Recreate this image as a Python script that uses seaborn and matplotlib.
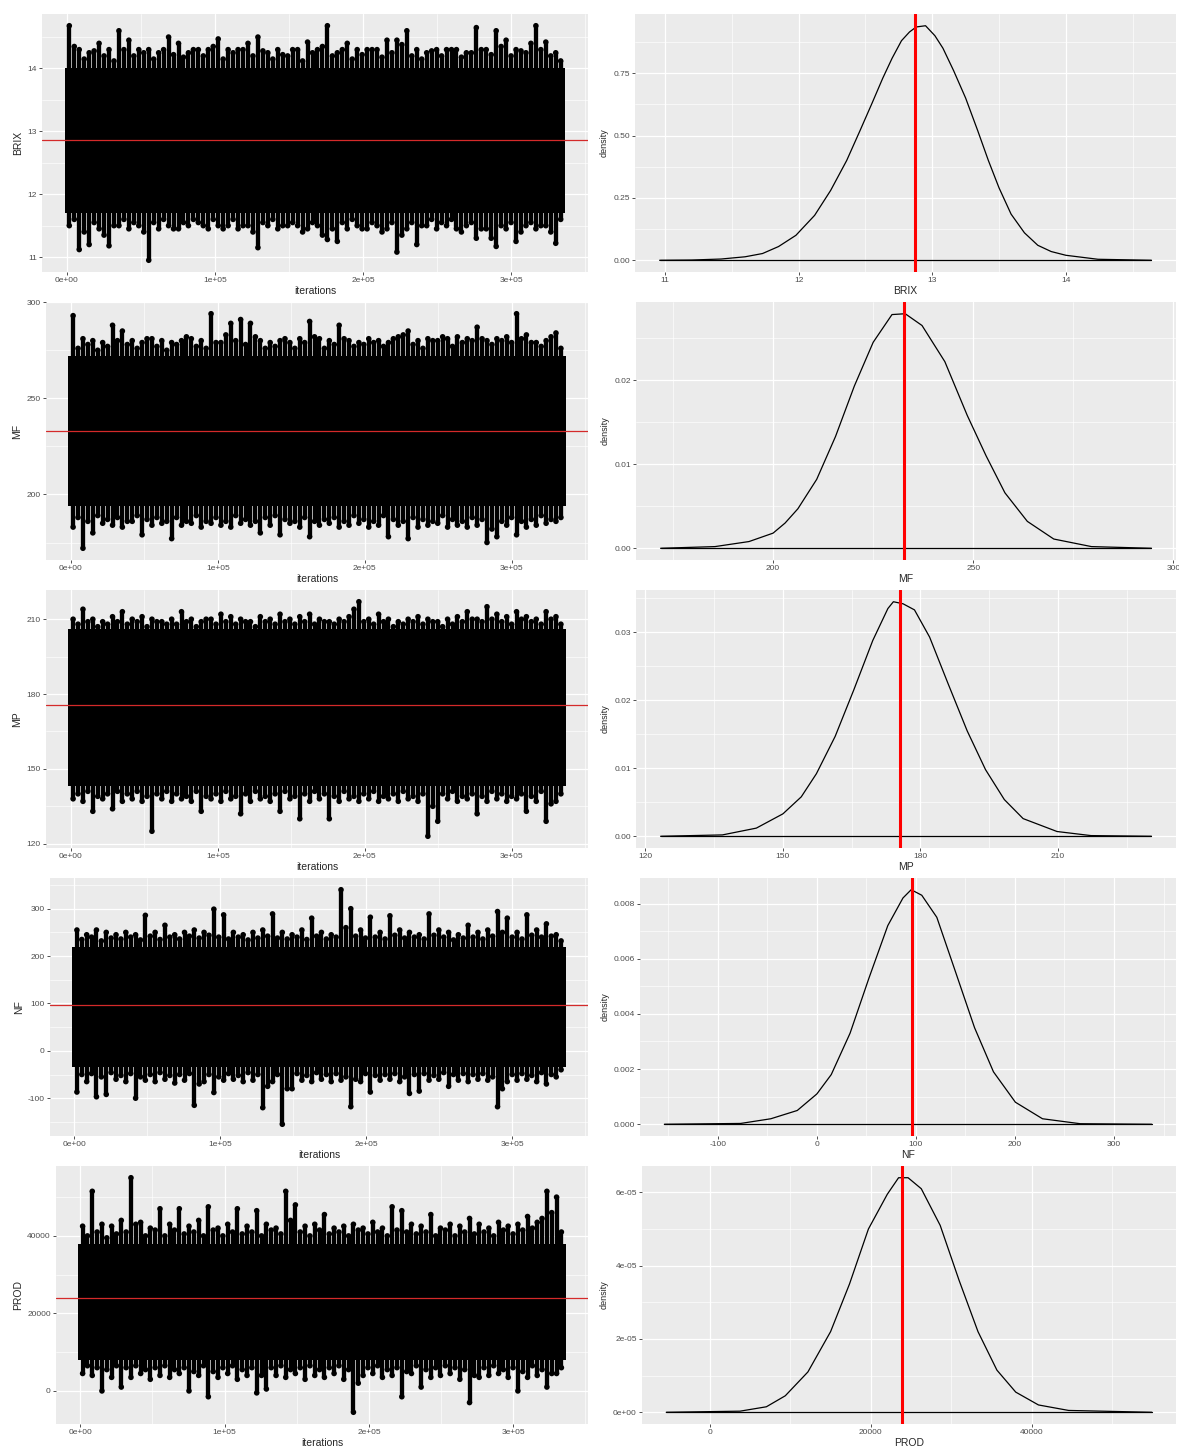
import numpy as np
import pandas as pd
import matplotlib
matplotlib.use("Agg")
import matplotlib.pyplot as plt
import seaborn as sns
from matplotlib.ticker import FixedLocator, FuncFormatter

# ----------------------------------------------------------------------
# Data
# ----------------------------------------------------------------------
PARAMS = ["BRIX", "MF", "MP", "NF", "PROD"]
N_ITER = 335000
N_BINS = 100

# posterior means (red lines)
means = [12.87, 232.8, 175.5, 96.5, 23870]

# dense core of each trace
core_lo = [11.7, 194, 143, -35, 8000]
core_hi = [14.0, 272, 206, 220, 38000]

# per-bin extremes of the traces (100 bins over the iterations)
brix_hi = [14.68, 14.35, 14.30, 14.15, 14.25, 14.28, 14.40, 14.20, 14.30, 14.12,
           14.60, 14.30, 14.45, 14.20, 14.30, 14.25, 14.30, 14.15, 14.25, 14.30,
           14.50, 14.22, 14.40, 14.18, 14.25, 14.30, 14.30, 14.20, 14.30, 14.35,
           14.47, 14.15, 14.30, 14.25, 14.30, 14.30, 14.40, 14.20, 14.50, 14.28,
           14.25, 14.15, 14.30, 14.22, 14.20, 14.30, 14.30, 14.12, 14.42, 14.25,
           14.30, 14.35, 14.68, 14.20, 14.25, 14.30, 14.40, 14.15, 14.30, 14.22,
           14.30, 14.30, 14.30, 14.18, 14.45, 14.25, 14.45, 14.38, 14.60, 14.20,
           14.30, 14.15, 14.25, 14.28, 14.30, 14.20, 14.30, 14.30, 14.30, 14.18,
           14.25, 14.25, 14.65, 14.30, 14.30, 14.22, 14.60, 14.35, 14.45, 14.20,
           14.30, 14.28, 14.25, 14.40, 14.68, 14.30, 14.42, 14.20, 14.25, 14.12]
brix_lo = [11.50, 11.60, 11.12, 11.40, 11.20, 11.55, 11.45, 11.35, 11.18, 11.50,
           11.50, 11.60, 11.45, 11.55, 11.50, 11.40, 10.95, 11.55, 11.45, 11.60,
           11.50, 11.45, 11.45, 11.55, 11.50, 11.60, 11.55, 11.50, 11.45, 11.60,
           11.50, 11.45, 11.50, 11.60, 11.45, 11.50, 11.50, 11.40, 11.15, 11.55,
           11.50, 11.60, 11.45, 11.50, 11.50, 11.55, 11.50, 11.40, 11.45, 11.55,
           11.50, 11.35, 11.28, 11.45, 11.25, 11.55, 11.45, 11.60, 11.50, 11.45,
           11.45, 11.55, 11.50, 11.40, 11.45, 11.55, 11.08, 11.35, 11.45, 11.55,
           11.20, 11.50, 11.50, 11.60, 11.45, 11.55, 11.50, 11.60, 11.45, 11.40,
           11.50, 11.55, 11.30, 11.45, 11.45, 11.30, 11.17, 11.50, 11.45, 11.55,
           11.25, 11.40, 11.50, 11.55, 11.45, 11.50, 11.50, 11.40, 11.22, 11.60]

mf_hi = [293, 276, 281, 278, 280, 275, 279, 277, 288, 280,
         285, 278, 280, 276, 279, 281, 281, 277, 280, 275,
         279, 278, 280, 282, 281, 277, 280, 276, 294, 279,
         279, 283, 289, 280, 291, 278, 289, 282, 280, 276,
         279, 277, 280, 281, 279, 276, 281, 279, 290, 282,
         281, 276, 280, 278, 288, 281, 280, 277, 279, 278,
         281, 279, 280, 277, 279, 281, 282, 283, 285, 278,
         280, 276, 281, 280, 280, 282, 281, 277, 282, 279,
         281, 280, 287, 281, 280, 278, 281, 280, 282, 279,
         294, 281, 283, 279, 279, 277, 280, 282, 284, 276]
mf_lo = [183, 188, 172, 186, 180, 189, 185, 187, 184, 188,
         183, 186, 186, 189, 179, 187, 184, 188, 185, 186,
         177, 188, 184, 186, 185, 189, 183, 186, 185, 188,
         184, 186, 183, 189, 185, 187, 184, 186, 180, 188,
         184, 189, 179, 187, 185, 186, 183, 188, 178, 186,
         184, 187, 185, 188, 183, 186, 184, 189, 185, 187,
         183, 186, 184, 189, 178, 187, 184, 186, 177, 188,
         183, 187, 184, 186, 185, 189, 183, 187, 184, 186,
         183, 188, 184, 187, 175, 182, 178, 186, 184, 188,
         179, 186, 183, 187, 184, 189, 185, 187, 186, 188]

mp_hi = [210, 208, 214, 209, 210, 207, 209, 208, 211, 209,
         213, 208, 210, 209, 211, 207, 210, 209, 209, 208,
         210, 208, 213, 209, 210, 207, 209, 210, 210, 208,
         212, 209, 211, 208, 210, 209, 209, 207, 211, 209,
         210, 208, 212, 209, 210, 208, 211, 209, 212, 208,
         210, 209, 209, 208, 210, 209, 211, 214, 217, 209,
         210, 208, 212, 209, 210, 207, 209, 208, 210, 209,
         211, 208, 210, 209, 209, 207, 210, 208, 211, 209,
         213, 210, 210, 209, 215, 210, 212, 209, 211, 208,
         213, 210, 211, 209, 210, 208, 213, 210, 211, 208]
mp_lo = [138, 140, 137, 141, 133, 139, 138, 140, 134, 141,
         137, 140, 138, 141, 137, 139, 125, 140, 138, 141,
         137, 140, 138, 139, 137, 141, 133, 139, 138, 140,
         137, 141, 138, 139, 132, 140, 137, 141, 138, 139,
         137, 140, 133, 141, 138, 139, 130, 140, 137, 141,
         138, 140, 130, 139, 137, 141, 138, 139, 137, 140,
         138, 141, 137, 139, 138, 140, 137, 141, 138, 139,
         137, 140, 123, 135, 129, 140, 138, 141, 137, 139,
         138, 140, 132, 139, 137, 141, 138, 140, 137, 139,
         138, 140, 133, 139, 137, 141, 129, 136, 137, 140]

nf_hi = [255, 235, 245, 240, 255, 232, 250, 238, 245, 236,
         250, 240, 245, 234, 286, 242, 250, 235, 265, 240,
         245, 236, 250, 242, 255, 238, 250, 244, 299, 240,
         287, 236, 250, 240, 245, 234, 250, 238, 255, 242,
         289, 238, 250, 236, 245, 240, 255, 235, 280, 242,
         250, 236, 245, 240, 340, 260, 300, 242, 255, 238,
         282, 240, 250, 236, 285, 244, 255, 238, 250, 240,
         245, 236, 289, 244, 255, 240, 250, 234, 245, 238,
         265, 240, 250, 236, 255, 242, 294, 250, 280, 240,
         250, 236, 287, 244, 255, 240, 268, 242, 245, 232]
nf_lo = [-87, -50, -65, -48, -97, -55, -92, -46, -60, -52,
         -65, -48, -100, -55, -62, -50, -65, -46, -60, -52,
         -68, -50, -62, -48, -115, -70, -65, -50, -88, -55,
         -62, -48, -60, -52, -65, -46, -62, -50, -120, -75,
         -65, -50, -155, -80, -80, -48, -62, -52, -65, -46,
         -60, -50, -65, -48, -62, -55, -118, -60, -65, -48,
         -87, -52, -62, -50, -60, -48, -65, -55, -90, -50,
         -85, -48, -62, -52, -60, -46, -75, -50, -62, -48,
         -65, -50, -60, -48, -62, -55, -118, -80, -65, -50,
         -62, -48, -60, -52, -65, -46, -70, -50, -55, -40]

prod_hi = [42500, 40000, 51500, 41000, 43000, 39500, 42500, 40500, 44000, 41000,
           55000, 43000, 43500, 40000, 42000, 41500, 47000, 40000, 43000, 41500,
           47000, 40500, 42500, 41000, 44000, 40000, 47500, 41500, 42000, 40000,
           43000, 41000, 47000, 40500, 42500, 41000, 46500, 40000, 43000, 41500,
           42000, 40500, 51500, 44000, 48000, 41000, 42500, 40000, 43000, 41500,
           45500, 40500, 42000, 41000, 42500, 40000, 43000, 41500, 42000, 40500,
           43500, 41000, 42000, 40000, 47500, 41500, 46500, 41000, 43000, 40500,
           42500, 41000, 45500, 40000, 42000, 41500, 43000, 40000, 42500, 41000,
           44500, 40500, 43000, 41000, 42000, 40000, 43500, 41500, 42500, 40500,
           43000, 41500, 45000, 42000, 43500, 44500, 51500, 46000, 50000, 41000]
prod_lo = [4500, 6500, 4000, 6000, 0, 5500, 3500, 6500, 1000, 6000,
           3500, 6500, 4500, 5500, 3000, 6000, 4000, 6500, 3500, 5500,
           4500, 6000, 0, 5000, 4000, 6500, -1500, 5000, 3500, 6000,
           4500, 6500, 3000, 5500, 4000, 6000, -500, 4000, 500, 6000,
           4000, 6500, 3500, 5500, 4500, 6000, 3000, 6500, 4000, 5500,
           3500, 6000, 4500, 6500, 3000, 5500, -5500, 2000, 4000, 6000,
           4500, 6500, 3500, 5500, 4000, 6000, -1500, 5000, 4500, 6500,
           1000, 5500, 3500, 6000, 4000, 6500, 4500, 6000, 3000, 5500,
           -3000, 4000, 3500, 6000, 4000, 6500, 4500, 5500, 3500, 6000,
           0, 5000, 3500, 6500, 4000, 5500, 1000, 4500, 4500, 6000]

trace_hi = [brix_hi, mf_hi, mp_hi, nf_hi, prod_hi]
trace_lo = [brix_lo, mf_lo, mp_lo, nf_lo, prod_lo]

# density curves
brix_dx = [10.96, 11.20, 11.42, 11.60, 11.73, 11.85, 11.98, 12.12, 12.24, 12.36, 12.46, 12.55,
           12.63, 12.70, 12.77, 12.83, 12.88, 12.95, 13.02, 13.08, 13.16, 13.25, 13.34, 13.42,
           13.50, 13.59, 13.69, 13.79, 13.89, 14.0, 14.24, 14.64]
brix_dy = [0, 0.001, 0.005, 0.014, 0.027, 0.055, 0.10, 0.18, 0.28, 0.40, 0.52, 0.63,
           0.73, 0.81, 0.88, 0.915, 0.935, 0.94, 0.90, 0.85, 0.76, 0.65, 0.52, 0.40,
           0.29, 0.185, 0.11, 0.06, 0.035, 0.02, 0.004, 0]

mf_dx = [171.9, 185.5, 194.0, 200.0, 203.0, 206.2, 210.9, 215.6, 220.3, 225.0, 229.7, 233.0,
         237.2, 242.9, 248.5, 253.2, 257.9, 263.5, 270.1, 279.5, 294.5]
mf_dy = [0, 0.0002, 0.0008, 0.0018, 0.003, 0.0047, 0.0082, 0.0133, 0.0193, 0.0245, 0.0278, 0.0279,
         0.0265, 0.0222, 0.0158, 0.011, 0.0066, 0.0032, 0.0011, 0.0002, 0]

mp_dx = [123.3, 136.8, 144.2, 150.0, 154.0, 157.3, 161.4, 165.5, 169.6, 172.9, 174.1, 176.2,
         178.7, 182.0, 186.0, 190.2, 194.2, 198.3, 202.4, 209.8, 217.2, 230.4]
mp_dy = [0, 0.0002, 0.0012, 0.0033, 0.0058, 0.0092, 0.0147, 0.0216, 0.0288, 0.0335, 0.0345, 0.0342,
         0.0333, 0.0293, 0.0225, 0.0155, 0.0098, 0.0054, 0.0026, 0.0007, 0.0001, 0]

nf_dx = [-154, -77, -46.5, -19.8, 0, 14.5, 33.5, 52.6, 71.6, 86.9, 95.2, 105.9,
         121.1, 140.2, 159.2, 178.3, 200.4, 227.8, 265.9, 338]
nf_dy = [0, 0.00003, 0.0002, 0.0005, 0.0011, 0.0018, 0.0033, 0.0053, 0.0072, 0.0082, 0.0085, 0.0083,
         0.0075, 0.0055, 0.0035, 0.0019, 0.0008, 0.0002, 0.00002, 0]

prod_dx = [-5400, 3760, 7040, 9390, 12200, 15020, 17370, 19720, 22070, 23470, 24650, 26290,
           28640, 30990, 33340, 35690, 38030, 40850, 44600, 54930]
prod_dy = [0, 0.03e-5, 0.15e-5, 0.45e-5, 1.1e-5, 2.2e-5, 3.5e-5, 5.0e-5, 5.95e-5, 6.4e-5, 6.4e-5, 6.1e-5,
           5.1e-5, 3.6e-5, 2.2e-5, 1.15e-5, 0.55e-5, 0.2e-5, 0.05e-5, 0]

dens_x = [brix_dx, mf_dx, mp_dx, nf_dx, prod_dx]
dens_y = [brix_dy, mf_dy, mp_dy, nf_dy, prod_dy]

# tick labels
value_ticks = [[11, 12, 13, 14], [200, 250, 300], [120, 150, 180, 210],
               [-100, 0, 100, 200, 300], [0, 20000, 40000]]
iter_ticks = [0, 100000, 200000, 300000]
dens_ticks = [[0, 0.25, 0.5, 0.75], [0, 0.01, 0.02], [0, 0.01, 0.02, 0.03],
              [0, 0.002, 0.004, 0.006, 0.008], [0, 2e-5, 4e-5, 6e-5]]
dens_fmt = ["{:.2f}", "{:.2f}", "{:.2f}", "{:.3f}", "{:.0e}"]

# ----------------------------------------------------------------------
# Style (ggplot-like)
# ----------------------------------------------------------------------
sns.set_theme(style="darkgrid")
plt.rcParams["font.family"] = ["Liberation Sans", "DejaVu Sans"]
GREY_BG = "#EBEBEB"
TICK_COL = "#4D4D4D"

W, H = 1179, 1447
fig = plt.figure(figsize=(W / 100, H / 100), dpi=100)
fig.patch.set_facecolor("white")


def px_axes(left, top, right, bottom):
    return fig.add_axes([left / W, 1 - bottom / H, (right - left) / W, (bottom - top) / H])


def expand(lo, hi, frac=0.05):
    pad = (hi - lo) * frac
    return lo - pad, hi + pad


def minor_of(major, lo, hi):
    step = major[1] - major[0]
    cand = [major[0] - step / 2] + [m + step / 2 for m in major]
    return [c for c in cand if lo <= c <= hi]


def gg_style(ax, xt, yt, xlim, ylim, xfmt, yfmt):
    ax.set_facecolor(GREY_BG)
    for s in ax.spines.values():
        s.set_visible(False)
    ax.set_xlim(*xlim)
    ax.set_ylim(*ylim)
    ax.xaxis.set_major_locator(FixedLocator(xt))
    ax.yaxis.set_major_locator(FixedLocator(yt))
    ax.xaxis.set_minor_locator(FixedLocator(minor_of(xt, *xlim)))
    ax.yaxis.set_minor_locator(FixedLocator(minor_of(yt, *ylim)))
    ax.xaxis.set_major_formatter(FuncFormatter(lambda v, p: xfmt(v)))
    ax.yaxis.set_major_formatter(FuncFormatter(lambda v, p: yfmt(v)))
    ax.grid(which="major", color="white", linewidth=0.9)
    ax.grid(which="minor", color="white", linewidth=0.45)
    ax.tick_params(which="major", length=2.2, width=0.6, color="#333333",
                   labelsize=6, labelcolor=TICK_COL, pad=1.5, direction="out",
                   bottom=True, left=True)
    ax.tick_params(which="minor", length=0)
    ax.set_axisbelow(True)


row_tops = [14, 302, 590, 878, 1166]
row_h = 258
left_l = [42, 46, 46, 50, 56]
right_l = [635, 636, 636, 640, 642]

bin_w = N_ITER / N_BINS
centers = (np.arange(N_BINS) + 0.5) * bin_w

for i, name in enumerate(PARAMS):
    top = row_tops[i]
    bot = top + row_h

    # ---------------- trace plot ----------------
    ax = px_axes(left_l[i], top, 588, bot)
    df = pd.DataFrame({"iterations": centers, "hi": trace_hi[i], "lo": trace_lo[i]})
    ylo, yhi = expand(df["lo"].min(), df["hi"].max())
    gg_style(ax, iter_ticks, value_ticks[i], expand(0, N_ITER), (ylo, yhi),
             lambda v: f"{v:.0e}", lambda v: f"{v:g}")

    ax.fill_between([-1500, N_ITER + 1500], core_lo[i], core_hi[i],
                    color="black", lw=0, zorder=2)
    ax.vlines(df["iterations"], df["lo"], df["hi"], color="black", lw=3.1, zorder=2)
    tips = pd.concat([df[["iterations", "hi"]].rename(columns={"hi": name}),
                      df[["iterations", "lo"]].rename(columns={"lo": name})])
    sns.scatterplot(data=tips, x="iterations", y=name, color="black", s=16,
                    edgecolor="none", ax=ax, zorder=3)
    ax.axhline(means[i], color="#D42A2A", lw=0.9, zorder=4)
    ax.set_xlabel("iterations", fontsize=7.5, labelpad=1)
    ax.set_ylabel(name, fontsize=7.5, labelpad=3)

    # ---------------- density plot ----------------
    ax2 = px_axes(right_l[i], top, 1176, bot)
    dd = pd.DataFrame({name: dens_x[i], "density": dens_y[i]})
    fmt = dens_fmt[i]
    gg_style(ax2, value_ticks[i], dens_ticks[i],
             expand(dd[name].min(), dd[name].max()),
             expand(0, dd["density"].max()),
             lambda v: f"{v:g}", lambda v, f=fmt: f.format(v))
    sns.lineplot(data=dd, x=name, y="density", color="black", lw=0.9,
                 sort=False, ax=ax2, zorder=3)
    base = pd.DataFrame({name: [dd[name].min(), dd[name].max()], "density": [0, 0]})
    sns.lineplot(data=base, x=name, y="density", color="black", lw=0.9, ax=ax2, zorder=3)
    ax2.axvline(means[i], color="red", lw=2.2, zorder=4)
    ax2.set_xlabel(name, fontsize=7.5, labelpad=1)
    ax2.set_ylabel("density", fontsize=6.5, labelpad=3)

fig.savefig("out.png", dpi=100, facecolor="white")
